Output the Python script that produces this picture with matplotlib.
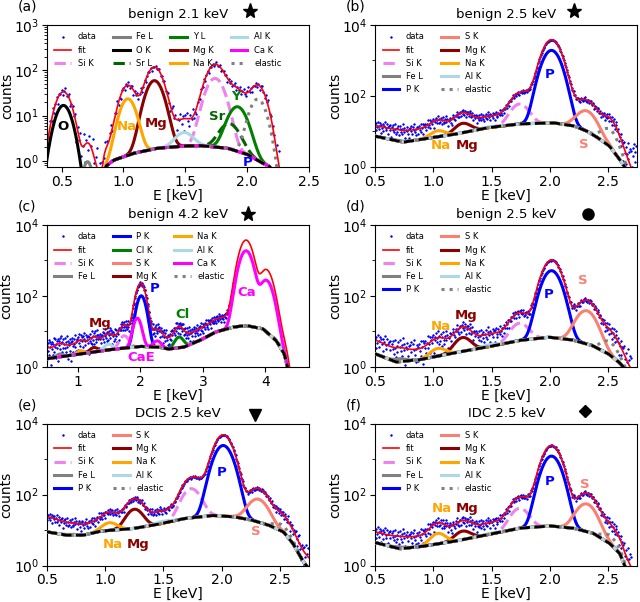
import numpy as np
import matplotlib.pyplot as plt
from matplotlib.transforms import blended_transform_factory


# colours of the fitted lines
#_____________
COLOR = {'Si K': 'violet', 'Fe L': 'gray', 'O K': 'black', 'Sr L': 'darkgreen',
         'Y L': 'green', 'Mg K': 'darkred', 'Na K': 'orange', 'Al K': 'lightblue',
         'Ca K': 'magenta', 'P K': 'blue', 'S K': 'salmon', 'Cl K': 'green',
         'elastic': 'gray'}
STYLE = {'Si K': '--', 'Sr L': '--', 'elastic': ':'}
FIT_SCALE = 2.0
#_____________

# scatter of the measured points around the fit (in units of sqrt(counts))
noise = [0.3, -1.2, 0.8, -0.4, 1.5, -0.9, 0.1, 1.1, -1.6, 0.6, -0.2, 0.9, -1.0, 0.4,
         1.9, -0.7, -0.1, 1.3, -1.4, 0.2, 0.7, -0.5, 1.0, -1.8, 0.5, -0.3, 1.2, -0.8,
         0.0, 1.6, -1.1, 0.35, -0.6, 0.95, -1.3, 0.15, 1.4, -0.45, -0.95, 0.55, 2.0,
         -0.25, 0.75, -1.5, 0.25, -0.05, 1.05, -0.85, 0.45, -1.7, 0.65, 1.25, -0.35,
         -1.05, 0.85, -0.15, 1.75, -0.65, 0.05, -1.25, 0.6]

# (a) benign 2.1 keV
a_legend = ['Si K', 'Fe L', 'O K', 'Sr L', 'Y L', 'Mg K', 'Na K', 'Al K', 'Ca K', 'elastic']
a_peak_name = ['O K', 'Fe L', 'Na K', 'Mg K', 'Al K', 'Si K', 'Sr L', 'Y L', 'elastic', 'Ca K']
a_peak_e = [0.515, 0.71, 1.035, 1.25, 1.49, 1.74, 1.855, 1.92, 2.085, 1.6]
a_peak_h = [16.7, 0.95, 22.0, 57.0, 2.1, 64.0, 4.8, 14.0, 22.0, 0.0]
a_peak_w = [0.057, 0.035, 0.055, 0.06, 0.065, 0.065, 0.07, 0.066, 0.057, 0.1]
a_extra_e = [0.75]
a_extra_h = [0.3]
a_extra_w = [0.06]
a_bg_e = [0.38, 0.80, 0.83, 0.85, 0.92, 1.08, 1.27, 1.50, 1.62, 1.84, 2.00, 2.13, 2.19, 2.22, 2.50]
a_bg_y = [0.001, 0.01, 0.3, 0.73, 1.03, 1.46, 1.89, 2.13, 2.17, 1.90, 1.39, 0.87, 0.73, 0.3, 0.001]
a_tag = ['O', 'Na', 'Mg', 'Sr', 'Y', 'P']
a_tag_e = [0.51, 1.03, 1.26, 1.76, 1.91, 2.0]
a_tag_y = [5.6, 5.6, 6.6, 9.3, 25.8, 0.9]

# (b) benign 2.5 keV
b_legend = ['Si K', 'Fe L', 'P K', 'S K', 'Mg K', 'Na K', 'Al K', 'elastic']
b_peak_name = ['Fe L', 'Na K', 'Mg K', 'Al K', 'Si K', 'P K', 'S K', 'elastic']
b_peak_e = [0.71, 1.041, 1.254, 1.487, 1.74, 2.013, 2.308, 2.5]
b_peak_h = [0.3, 3.4, 7.7, 0.6, 43.0, 1900.0, 28.0, 8.0]
b_peak_w = [0.05, 0.06, 0.062, 0.065, 0.067, 0.064, 0.072, 0.06]
b_extra_e = [1.83, 2.15]
b_extra_h = [20.0, 20.0]
b_extra_w = [0.05, 0.06]
b_bg_e = [0.5, 0.74, 0.89, 1.17, 1.46, 1.74, 2.03, 2.2, 2.31, 2.4, 2.51, 2.6, 2.65, 2.75]
b_bg_y = [7.4, 5.0, 6.0, 8.2, 12.7, 16.4, 17.5, 14.5, 10.5, 7.0, 3.9, 1.6, 0.9, 0.2]
b_tag = ['Na', 'Mg', 'P', 'S']
b_tag_e = [1.06, 1.29, 2.0, 2.29]
b_tag_y = [4.05, 4.05, 396, 4.3]

# (c) benign 4.2 keV
c_legend = ['Si K', 'Fe L', 'P K', 'Cl K', 'S K', 'Mg K', 'Na K', 'Al K', 'Ca K', 'elastic']
c_peak_name = ['Fe L', 'Na K', 'Mg K', 'Al K', 'Si K', 'P K', 'S K', 'Cl K',
               'Ca K', 'Ca K', 'Ca K', 'Ca K', 'elastic']
c_peak_e = [0.71, 1.041, 1.254, 1.487, 1.74, 2.013, 2.308, 2.62, 1.95, 2.27, 3.69, 4.01, 4.2]
c_peak_h = [0.4, 0.55, 0.9, 1.3, 4.2, 97.0, 0.3, 3.5, 20.0, 1.8, 1856.0, 268.0, 0.5]
c_peak_w = [0.05, 0.055, 0.06, 0.065, 0.065, 0.062, 0.07, 0.065, 0.055, 0.06, 0.085, 0.085, 0.08]
c_extra_e = [3.3]
c_extra_h = [1.5]
c_extra_w = [0.2]
c_bg_e = [0.5, 1.0, 1.52, 2.0, 2.3, 2.45, 2.69, 2.95, 3.2, 3.48, 3.69, 3.96, 4.17, 4.3, 4.35, 4.45, 4.7]
c_bg_y = [1.71, 2.27, 3.1, 3.8, 3.6, 3.2, 3.6, 5.6, 9.6, 13.2, 14.7, 11.9, 5.6, 2.4, 1.1, 0.1, 0.01]
c_tag = ['Mg', 'P', 'Cl', 'Ca', 'CaE']
c_tag_e = [1.35, 2.22, 2.67, 3.7, 2.02]
c_tag_y = [17, 167, 31, 127, 1.8]

# (d) benign 2.5 keV
d_legend = b_legend
d_peak_name = ['Fe L', 'Na K', 'Mg K', 'Al K', 'Si K', 'P K', 'S K', 'elastic']
d_peak_e = [0.71, 1.041, 1.254, 1.487, 1.74, 2.013, 2.308, 2.5]
d_peak_h = [0.3, 1.3, 4.0, 0.5, 11.5, 507.0, 34.0, 3.0]
d_peak_w = [0.05, 0.06, 0.062, 0.065, 0.067, 0.064, 0.072, 0.06]
d_extra_e = [0.5]
d_extra_h = [0.5]
d_extra_w = [0.1]
d_bg_e = [0.5, 0.68, 0.88, 1.17, 1.45, 1.74, 1.99, 2.19, 2.36, 2.5, 2.59, 2.63, 2.75]
d_bg_y = [2.36, 1.38, 1.6, 2.47, 3.6, 5.6, 6.9, 5.8, 4.05, 2.36, 1.38, 1.0, 0.2]
d_tag = ['Na', 'Mg', 'P', 'S']
d_tag_e = [1.06, 1.28, 1.99, 2.28]
d_tag_y = [13.8, 28, 107, 268]

# (e) DCIS 2.5 keV
e_legend = b_legend
e_peak_name = ['Fe L', 'Na K', 'Mg K', 'Al K', 'Si K', 'P K', 'S K', 'elastic']
e_peak_e = [0.71, 1.041, 1.254, 1.487, 1.74, 2.013, 2.308, 2.5]
e_peak_h = [0.5, 6.4, 27.6, 2.0, 125.0, 2395.0, 58.0, 5.0]
e_peak_w = [0.05, 0.06, 0.062, 0.065, 0.067, 0.064, 0.072, 0.06]
e_extra_e = [0.5, 1.83]
e_extra_h = [3.0, 40.0]
e_extra_w = [0.1, 0.05]
e_bg_e = [0.5, 0.67, 0.81, 0.96, 1.24, 1.44, 1.67, 1.92, 2.1, 2.25, 2.4, 2.53, 2.61, 2.7, 2.75]
e_bg_y = [9.0, 7.2, 7.2, 9.4, 11.1, 14.4, 21.0, 26.0, 24.0, 19.5, 14.0, 9.0, 4.3, 1.3, 0.8]
e_tag = ['Na', 'Mg', 'P', 'S']
e_tag_e = [1.07, 1.28, 2.0, 2.29]
e_tag_y = [4.05, 4.05, 430, 9.4]

# (f) IDC 2.5 keV
f_legend = b_legend
f_peak_name = ['Fe L', 'Na K', 'Mg K', 'Al K', 'Si K', 'P K', 'S K', 'elastic']
f_peak_e = [0.71, 1.041, 1.254, 1.487, 1.74, 2.013, 2.308, 2.5]
f_peak_h = [0.3, 4.0, 4.0, 0.5, 30.0, 1203.0, 46.0, 3.0]
f_peak_w = [0.05, 0.06, 0.062, 0.065, 0.067, 0.064, 0.072, 0.06]
f_extra_e = [1.83]
f_extra_h = [8.0]
f_extra_w = [0.05]
f_bg_e = [0.5, 0.71, 0.89, 1.17, 1.46, 1.74, 2.0, 2.2, 2.37, 2.51, 2.6, 2.64, 2.75]
f_bg_y = [4.5, 3.0, 3.45, 4.8, 7.4, 11.4, 13.2, 11.4, 8.2, 4.3, 2.2, 1.0, 0.2]
f_tag = ['Na', 'Mg', 'P', 'S']
f_tag_e = [1.07, 1.29, 2.0, 2.3]
f_tag_y = [42, 42, 238, 192]

TAG_COLOR = {'O': 'black', 'Na': 'orange', 'Mg': 'darkred', 'Sr': 'darkgreen',
             'Y': 'green', 'P': 'blue', 'S': 'salmon', 'Cl': 'green',
             'Ca': 'magenta', 'CaE': 'magenta'}


def gauss(e, c, h, w):
    return h * np.exp(-0.5 * ((e - c) / w) ** 2)


def background(e, knots_e, knots_y):
    ly = np.interp(e, knots_e, np.log10(knots_y))
    k = np.ones(15) / 15
    ly = np.convolve(np.pad(ly, 7, mode='edge'), k, mode='valid')
    return 10 ** ly


def draw(ax, p):
    e = np.arange(p['xlim'][0], p['xlim'][1] + 0.001, 0.002)
    bg = background(e, p['bg_e'], p['bg_y'])
    peaks = {}
    for n, c, h, w in zip(p['name'], p['pe'], p['ph'], p['pw']):
        peaks[n] = peaks.get(n, 0) + gauss(e, c, h, w)
    extra = sum(gauss(e, c, h, w) for c, h, w in zip(p['xe'], p['xh'], p['xw']))
    fit = FIT_SCALE * (bg + sum(peaks.values()) + extra)

    de = np.arange(p['data'][0], p['data'][1], p['data'][2])
    dfit = np.maximum(np.interp(de, e, fit), p['floor'])
    scat = np.resize(noise, len(de))
    data = dfit + 0.8 * scat * np.sqrt(dfit)
    data[data <= 0] = np.nan

    ax.plot(de, data, '.', color='blue', ms=2.2, mew=0.6, label='data', zorder=1)
    ax.plot(e, fit, color='red', lw=1.2, label='fit', zorder=2)
    for n in p['legend']:
        ax.plot(e, bg + peaks.get(n, 0), color=COLOR[n], ls=STYLE.get(n, '-'),
                lw=2.2, label=n, zorder=3)
    ax.plot(e, bg, color='black', ls='--', lw=2, zorder=4)

    for t, te, ty in zip(p['tag'], p['tag_e'], p['tag_y']):
        ax.text(te, ty, t, color=TAG_COLOR[t], fontsize=9.5, fontweight='bold',
                ha='center', va='center', zorder=5)

    ax.set_yscale('log')
    ax.set_xlim(p['xlim'])
    ax.set_ylim(p['ylim'])
    if p['ylim'][1] > 5000:
        ax.set_yticks([1, 1e2, 1e4])
        ax.set_yticks([10, 1e3], minor=True)
        ax.set_yticklabels([], minor=True)
    ax.set_xticks(p['xticks'])
    ax.tick_params(labelsize=10, pad=2)
    ax.set_xlabel('E [keV]', fontsize=10, labelpad=0)
    ax.set_ylabel('counts', fontsize=10, labelpad=0)
    ax.set_title(p['title'], fontsize=9.5, pad=5)
    ax.legend(loc='upper left', ncol=p['ncol'], frameon=False, fontsize=6)
    tr = blended_transform_factory(ax.transData, ax.transAxes)
    ax.plot([p['mark_e']], [p['mark_y']], p['marker'], color='black', ms=p['ms'],
            transform=tr, clip_on=False)
    ax.text(-0.11, 1.13, p['letter'], transform=ax.transAxes, fontsize=10,
            ha='left', va='center')


xt25 = [0.5, 1.0, 1.5, 2.0, 2.5]
panels = [
    dict(letter='(a)', title='benign 2.1 keV', xlim=(0.38, 2.5), ylim=(0.73, 1e3),
         xticks=xt25, legend=a_legend, ncol=4, name=a_peak_name, pe=a_peak_e, ph=a_peak_h,
         pw=a_peak_w, xe=a_extra_e, xh=a_extra_h, xw=a_extra_w, bg_e=a_bg_e, bg_y=a_bg_y,
         tag=a_tag, tag_e=a_tag_e, tag_y=a_tag_y, data=(0.39, 2.3, 0.01), floor=0.0,
         marker='*', mark_e=2.02, mark_y=1.1, ms=11),
    dict(letter='(b)', title='benign 2.5 keV', xlim=(0.5, 2.75), ylim=(1, 1e4),
         xticks=xt25, legend=b_legend, ncol=2, name=b_peak_name, pe=b_peak_e, ph=b_peak_h,
         pw=b_peak_w, xe=b_extra_e, xh=b_extra_h, xw=b_extra_w, bg_e=b_bg_e, bg_y=b_bg_y,
         tag=b_tag, tag_e=b_tag_e, tag_y=b_tag_y, data=(0.5, 2.75, 0.006), floor=2.5,
         marker='*', mark_e=2.21, mark_y=1.1, ms=11),
    dict(letter='(c)', title='benign 4.2 keV', xlim=(0.5, 4.7), ylim=(1, 1e4),
         xticks=[1, 2, 3, 4], legend=c_legend, ncol=3, name=c_peak_name, pe=c_peak_e,
         ph=c_peak_h, pw=c_peak_w, xe=c_extra_e, xh=c_extra_h, xw=c_extra_w, bg_e=c_bg_e,
         bg_y=c_bg_y, tag=c_tag, tag_e=c_tag_e, tag_y=c_tag_y, data=(0.5, 3.5, 0.008),
         floor=0.0, marker='*', mark_e=3.72, mark_y=1.08, ms=11),
    dict(letter='(d)', title='benign 2.5 keV', xlim=(0.5, 2.75), ylim=(1, 1e4),
         xticks=xt25, legend=d_legend, ncol=2, name=d_peak_name, pe=d_peak_e, ph=d_peak_h,
         pw=d_peak_w, xe=d_extra_e, xh=d_extra_h, xw=d_extra_w, bg_e=d_bg_e, bg_y=d_bg_y,
         tag=d_tag, tag_e=d_tag_e, tag_y=d_tag_y, data=(0.5, 2.7, 0.006), floor=1.5,
         marker='o', mark_e=2.33, mark_y=1.08, ms=8),
    dict(letter='(e)', title='DCIS 2.5 keV', xlim=(0.5, 2.75), ylim=(1, 1e4),
         xticks=xt25, legend=e_legend, ncol=2, name=e_peak_name, pe=e_peak_e, ph=e_peak_h,
         pw=e_peak_w, xe=e_extra_e, xh=e_extra_h, xw=e_extra_w, bg_e=e_bg_e, bg_y=e_bg_y,
         tag=e_tag, tag_e=e_tag_e, tag_y=e_tag_y, data=(0.5, 2.75, 0.006), floor=2.0,
         marker='v', mark_e=2.29, mark_y=1.06, ms=8),
    dict(letter='(f)', title='IDC 2.5 keV', xlim=(0.5, 2.75), ylim=(1, 1e4),
         xticks=xt25, legend=f_legend, ncol=2, name=f_peak_name, pe=f_peak_e, ph=f_peak_h,
         pw=f_peak_w, xe=f_extra_e, xh=f_extra_h, xw=f_extra_w, bg_e=f_bg_e, bg_y=f_bg_y,
         tag=f_tag, tag_e=f_tag_e, tag_y=f_tag_y, data=(0.5, 2.7, 0.006), floor=1.5,
         marker='D', mark_e=2.3, mark_y=1.09, ms=6),
]

fig = plt.figure(figsize=(6.4, 6.02), dpi=100)
lefts = [0.073, 0.586]
bottoms = [0.7226, 0.3904, 0.0603]
for i, p in enumerate(panels):
    ax = fig.add_axes([lefts[i % 2], bottoms[i // 2], 0.41, 0.236])
    draw(ax, p)

fig.savefig('out.png', dpi=100)
